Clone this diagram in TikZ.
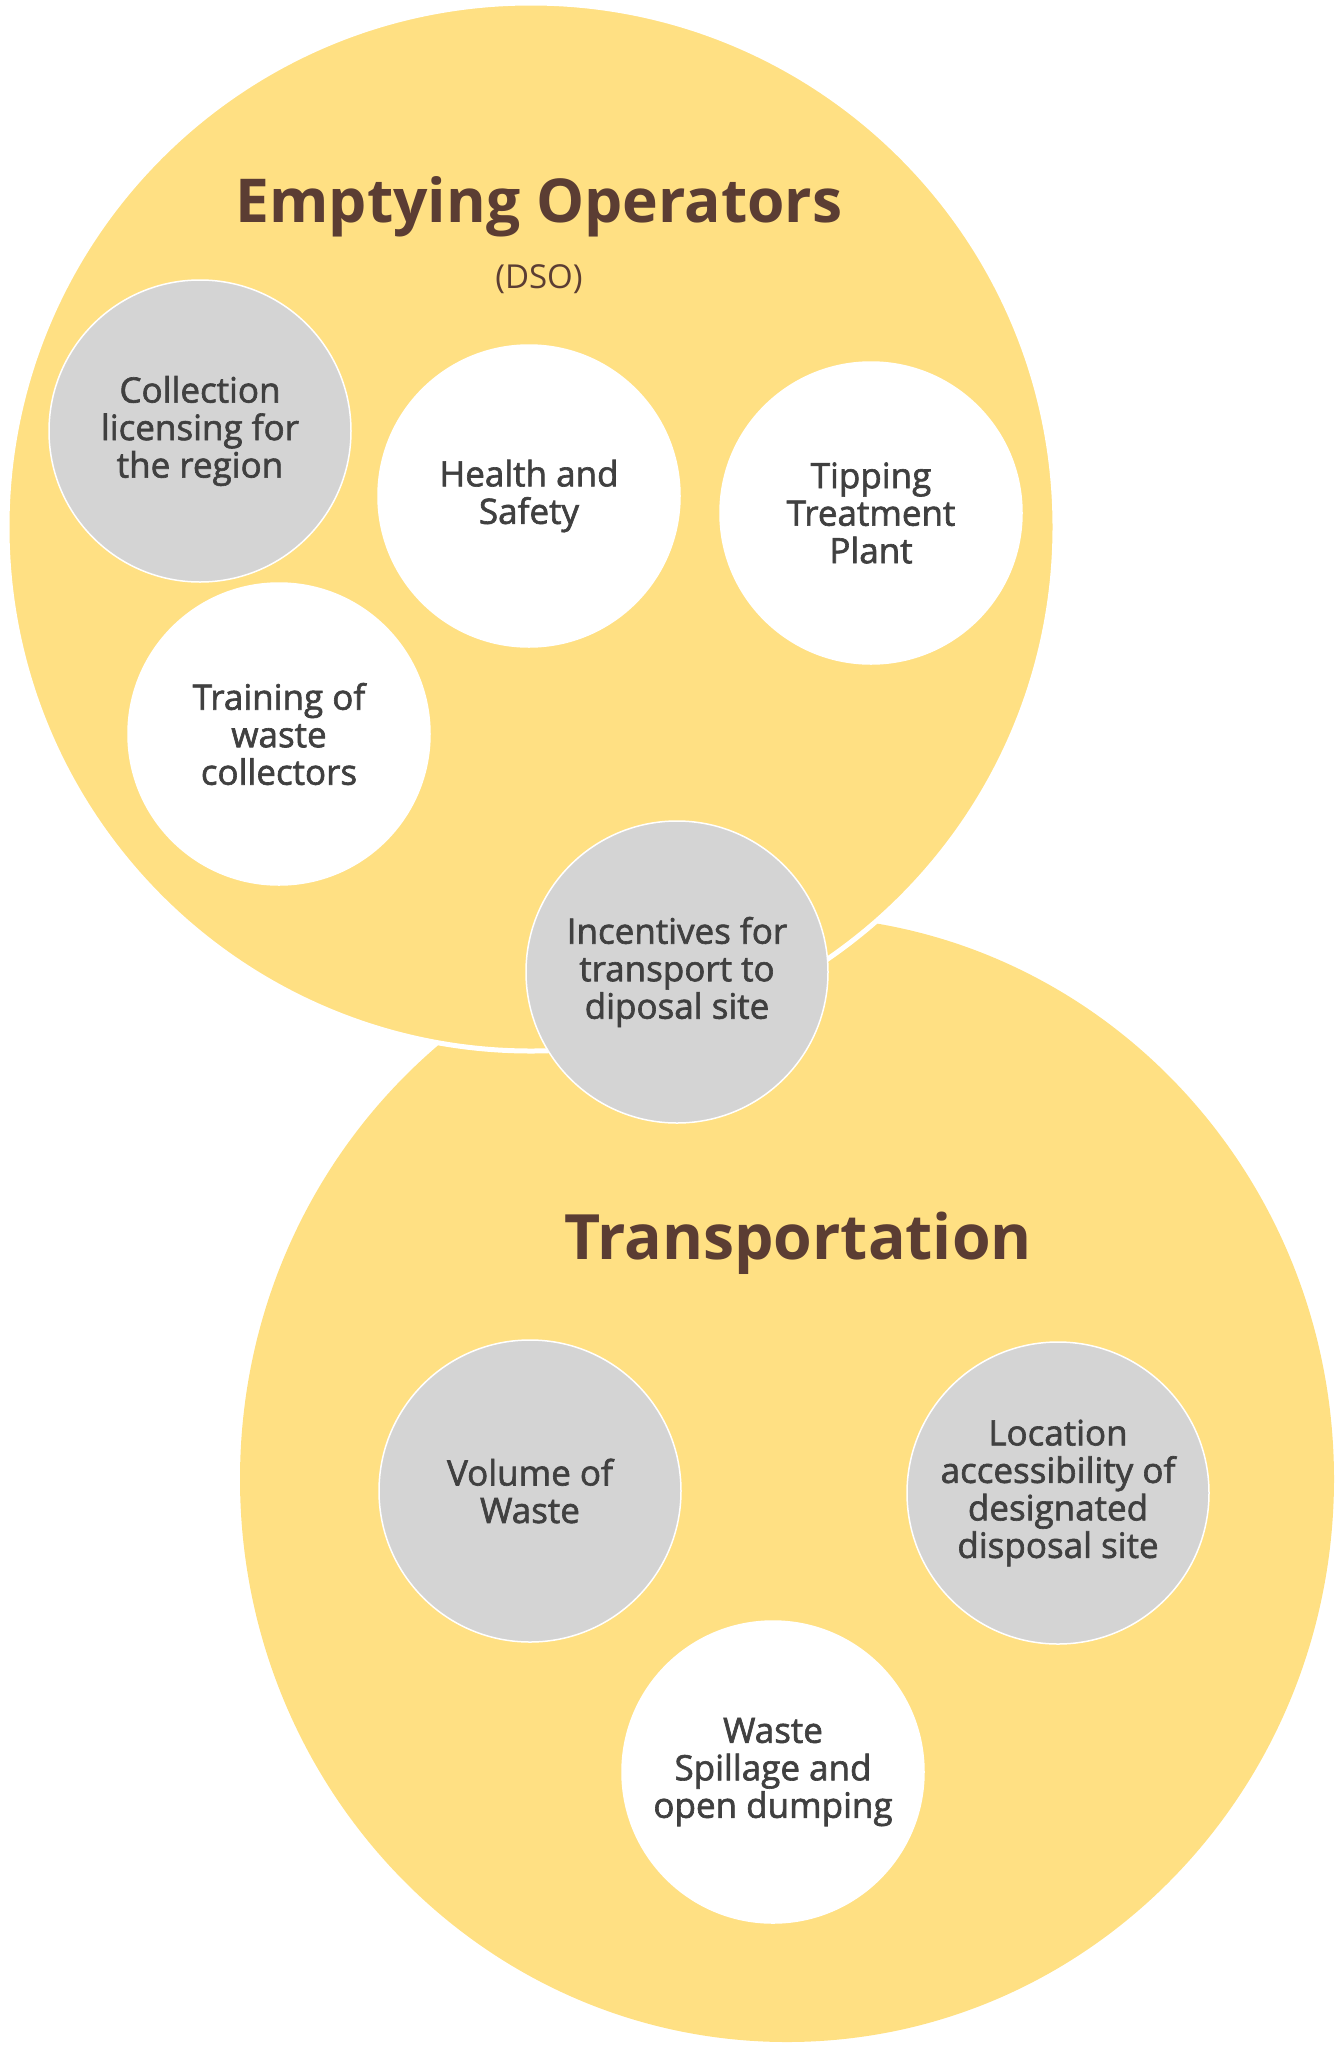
\documentclass[tikz,border=0pt]{standalone}
\usepackage{fontspec}
\setmainfont{Open Sans}
\newfontfamily\itemfont[FakeBold=1.8]{Open Sans}
\definecolor{bubble}{HTML}{FFE083}
\definecolor{topic}{HTML}{D4D4D4}
\definecolor{heading}{HTML}{5B3D33}
\definecolor{label}{HTML}{404040}

\tikzset{
  item/.style={circle, draw=white, line width=1.5pt, minimum size=302pt,
    inner sep=0pt, align=center, text=label, font=\itemfont\fontsize{35}{37.5}\selectfont},
  grey item/.style={item, fill=topic},
  white item/.style={item, fill=white},
  title/.style={anchor=base, text=heading, font=\bfseries\fontsize{60.5}{70}\selectfont}
}

\begin{document}
\begin{tikzpicture}[x=1pt,y=-1pt]
  \useasboundingbox (0,0) rectangle (1340,2048);
  \coordinate (E) at (531,527);  % emptying operators
  \coordinate (T) at (787,1479); % transportation
  \def\R{524pt}

  \fill[bubble] (T) ellipse [x radius=547pt, y radius=563pt];
  \filldraw[fill=bubble, draw=white, line width=5pt] (E) circle (\R);

  \node[title] (eotitle) at (539,222) {Emptying Operators};
  \node[anchor=base, text=heading, font=\fontsize{33}{38}\selectfont] (dso) at (539,288) {(DSO)};
  \node[title, font=\bfseries\fontsize{62.5}{72}\selectfont] (trtitle) at (798,1259) {Transportation};

  \node[grey item]  (licence)   at (200,431)  {Collection\\licensing for\\the region};
  \node[white item] (health)    at (529,496)  {Health and\\Safety};
  \node[white item] (tipping)   at (871,513)  {Tipping\\Treatment\\Plant};
  \node[white item] (training)  at (279,734)  {Training of\\waste\\collectors};
  \node[grey item]  (incentive) at (677,972)  {Incentives for\\transport to\\diposal site};

  \node[grey item]  (volume)    at (530,1491) {Volume of\\Waste};
  \node[grey item]  (location)  at (1058,1493) {Location\\accessibility of\\designated\\disposal site};
  \node[white item] (spillage)  at (773,1772) {Waste\\Spillage and\\open dumping};
\end{tikzpicture}
\end{document}
